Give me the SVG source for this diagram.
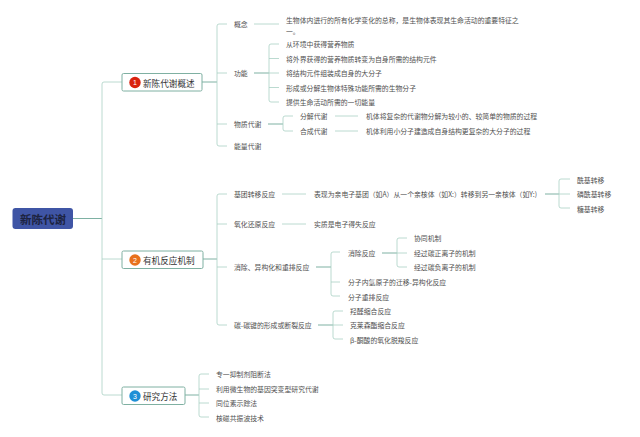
<svg xmlns="http://www.w3.org/2000/svg" width="640" height="437" viewBox="0 0 640 437">
<style>
text{font-family:"Noto Sans CJK SC","Liberation Sans",sans-serif;dominant-baseline:central}
.t{font-size:6.85px;fill:#505050}
.b{font-size:8.6px;fill:#333}
.r{font-size:11.5px;font-weight:700;fill:#1c2340}
.n{font-size:7px;fill:#fff;text-anchor:middle;font-family:"Liberation Sans",sans-serif}
.box{fill:#fff;stroke:#7fb0a2;stroke-width:1}
.l{fill:none;stroke:#a9d0c4;stroke-width:.8}
.d{fill:none;stroke:#6fa898;stroke-width:.9}
</style>
<rect width="640" height="437" fill="#fff"/>
<g id="connectors">
<path class="d" d="M73 218.500H102"/>
<path class="l" d="M122 82H104Q102 82 102 84V393Q102 395 104 395H122M102 259H122"/>
<path class="d" d="M202 82H217M203 259H217M185 395H199"/>
<path class="l" d="M227 24H219Q217 24 217 26V144Q217 146 219 146H227M217 73H227M217 124H227"/>
<path class="l" d="M254 24H279"/>
<path class="d" d="M254 73H269"/>
<path class="l" d="M279 44H271Q269 44 269 46V100Q269 102 271 102H279M269 58.500H279M269 73H279M269 87.500H279"/>
<path class="d" d="M268 124H283"/>
<path class="l" d="M293 116H285Q283 116 283 118V129Q283 131 285 131H293"/>
<path class="l" d="M335 116H358M335 131H358"/>
<path class="l" d="M227 194H219Q217 194 217 196V323Q217 325 219 325H227M217 224H227M217 267H227"/>
<path class="l" d="M282 194H306M282 224H306"/>
<path class="d" d="M545 194H559"/>
<path class="l" d="M570 179H561Q559 179 559 181V206Q559 208 561 208H570M559 194H570"/>
<path class="d" d="M316 267H331"/>
<path class="l" d="M340 252H333Q331 252 331 254V294Q331 296 333 296H340M331 282H340"/>
<path class="d" d="M382 253H397"/>
<path class="l" d="M407 238H399Q397 238 397 240V265Q397 267 399 267H407M397 253H407"/>
<path class="d" d="M318 325H333"/>
<path class="l" d="M343 311H335Q333 311 333 313V337Q333 339 335 339H343M333 325H343"/>
<path class="l" d="M209 374H201Q199 374 199 376V415Q199 417 201 417H209M199 389H209M199 403H209"/>
</g>
<g id="root"><rect x="12.500" y="208" width="60.500" height="21" rx="3" fill="#3f55a5"/><text class="r" x="20" y="218.500">新陈代谢</text></g>
<g id="n1"><rect class="box" x="122" y="73.500" width="80" height="17.500" rx="1.500"/><circle cx="135" cy="82.500" r="5.700" fill="#d9230f"/><text class="n" x="135" y="82.500">1</text><text class="b" x="143" y="82.500">新陈代谢概述</text></g>
<g id="n2"><rect class="box" x="122" y="251" width="81" height="17.500" rx="1.500"/><circle cx="135" cy="260" r="5.700" fill="#e8711c"/><text class="n" x="135" y="260">2</text><text class="b" x="143" y="260">有机反应机制</text></g>
<g id="n3"><rect class="box" x="122" y="387" width="63" height="17.500" rx="1.500"/><circle cx="135" cy="396" r="5.700" fill="#1f8fd6"/><text class="n" x="135" y="396">3</text><text class="b" x="143" y="396">研究方法</text></g>
<g id="s1">
<text class="t" x="234" y="24">概念</text>
<text class="t" x="286" y="20">生物体内进行的所有化学变化的总称，是生物体表现其生命活动的重要特征之</text>
<text class="t" x="286" y="31">一。</text>
<text class="t" x="234" y="73">功能</text>
<text class="t" x="286" y="44">从环境中获得营养物质</text>
<text class="t" x="286" y="58.500">将外界获得的营养物质转变为自身所需的结构元件</text>
<text class="t" x="286" y="73">将结构元件组装成自身的大分子</text>
<text class="t" x="286" y="87.500">形成或分解生物体特殊功能所需的生物分子</text>
<text class="t" x="286" y="102">提供生命活动所需的一切能量</text>
<text class="t" x="234" y="124">物质代谢</text>
<text class="t" x="300" y="116">分解代谢</text>
<text class="t" x="300" y="131">合成代谢</text>
<text class="t" x="366" y="116">机体将复杂的代谢物分解为较小的、较简单的物质的过程</text>
<text class="t" x="366" y="131">机体利用小分子建造成自身结构更复杂的大分子的过程</text>
<text class="t" x="234" y="146">能量代谢</text>
</g>
<g id="s2">
<text class="t" x="234" y="194">基团转移反应</text>
<text class="t" x="314" y="194">表现为亲电子基团（如A）从一个亲核体（如X:）转移到另一亲核体（如Y:)</text>
<text class="t" x="577" y="180">酰基转移</text>
<text class="t" x="577" y="194">磷酰基转移</text>
<text class="t" x="577" y="209">糖基转移</text>
<text class="t" x="234" y="224">氧化还原反应</text>
<text class="t" x="314" y="224">实质是电子得失反应</text>
<text class="t" x="234" y="267">消除、异构化和重排反应</text>
<text class="t" x="348" y="253">消除反应</text>
<text class="t" x="414" y="238">协同机制</text>
<text class="t" x="414" y="253">经过碳正离子的机制</text>
<text class="t" x="414" y="267">经过碳负离子的机制</text>
<text class="t" x="348" y="282">分子内氢原子的迁移-异构化反应</text>
<text class="t" x="348" y="297">分子重排反应</text>
<text class="t" x="234" y="325">碳-碳键的形成或断裂反应</text>
<text class="t" x="350" y="311">羟醛缩合反应</text>
<text class="t" x="350" y="325">克莱森酯缩合反应</text>
<text class="t" x="350" y="340">β-酮酸的氧化脱羧反应</text>
</g>
<g id="s3">
<text class="t" x="216" y="374">专一抑制剂阻断法</text>
<text class="t" x="216" y="389">利用微生物的基因突变型研究代谢</text>
<text class="t" x="216" y="403">同位素示踪法</text>
<text class="t" x="216" y="418">核磁共振波技术</text>
</g>
</svg>
